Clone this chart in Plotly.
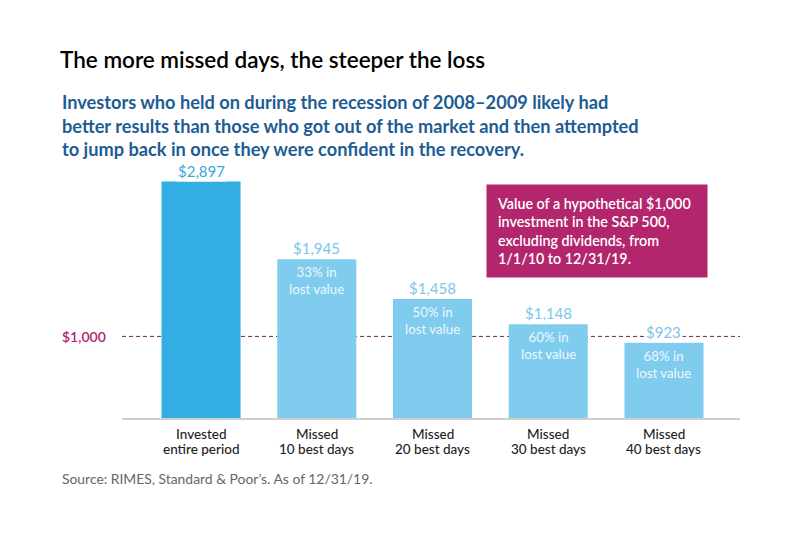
import plotly.graph_objects as go

cat_line1 = ["Invested", "Missed", "Missed", "Missed", "Missed"]
cat_line2 = ["entire period", "10 best days", "20 best days", "30 best days", "40 best days"]
categories = [a + " " + b for a, b in zip(cat_line1, cat_line2)]
values = [2897, 1945, 1458, 1148, 923]
value_labels = ["$2,897", "$1,945", "$1,458", "$1,148", "$923"]
lost_labels = ["", "33% in<br>lost value", "50% in<br>lost value", "60% in<br>lost value", "68% in<br>lost value"]
reference_value = 1000

FONT = "Lato"
bar_colors = ["#33AEE2"] + ["#80CCEE"] * 4
label_colors = ["#3BA7DD"] + ["#7DC6EA"] * 4

# screen geometry (page is offset by 8px body margin)
OFF = 8
PL, PR, PT, PB = 122, 740, 160, 418.5
PW, PH = PR - PL, PB - PT


def px(xs):
    return (xs - PL) / PW


def py(ys):
    return (PB - ys) / PH


fig = go.Figure()
fig.add_trace(go.Bar(
    x=categories, y=values, marker=dict(color=bar_colors, line=dict(width=0)),
    width=0.683, hoverinfo="skip",
))

for i, (c, v) in enumerate(zip(categories, values)):
    fig.add_annotation(x=c, y=v, text=value_labels[i], showarrow=False, yanchor="bottom",
                       yshift=0, bgcolor="white", borderpad=1,
                       font=dict(family=FONT, size=15, color=label_colors[i]))
    if lost_labels[i]:
        fig.add_annotation(x=c, y=v, text=lost_labels[i], showarrow=False, yanchor="top",
                           yshift=-3, font=dict(family=FONT, size=13.3, color="#EEF8FD"))
    fig.add_annotation(x=c, xref="x", yref="paper", y=py(435), text=cat_line1[i], showarrow=False,
                       yanchor="middle", font=dict(family=FONT, size=13.5, color="#1E1E1E", weight=500))
    fig.add_annotation(x=c, xref="x", yref="paper", y=py(449.5), text=cat_line2[i], showarrow=False,
                       yanchor="middle", font=dict(family=FONT, size=13.5, color="#1E1E1E", weight=500))

fig.add_shape(type="line", xref="paper", yref="y", x0=0, x1=1, y0=reference_value, y1=reference_value,
              line=dict(color="#6E2747", width=1, dash="4px,3px"), layer="below")
fig.add_annotation(xref="paper", yref="y", x=px(60), y=reference_value, text="$1,000", showarrow=False,
                   xanchor="left", font=dict(family=FONT, size=14, color="#B0276D", weight=600))

fig.add_annotation(
    xref="paper", yref="paper", x=px(486), y=py(184),
    xanchor="left", yanchor="top", align="left", showarrow=False,
    text="Value of a hypothetical $1,000<br>investment in the S&P 500,<br>excluding dividends, from<br>1/1/10 to 12/31/19.",
    font=dict(family=FONT, size=14.3, color="white", weight=600),
    bgcolor="#B3266E", borderpad=10, width=200, height=72,
)

fig.update_layout(
    width=800, height=534,
    margin=dict(l=PL - OFF, r=800 - PR + OFF, t=PT - OFF, b=534 - PB + OFF),
    paper_bgcolor="white", plot_bgcolor="white",
    showlegend=False,
    title=dict(text="The more missed days, the steeper the loss", x=(60 - OFF) / 800, xanchor="left",
               y=1 - (60 - OFF) / 534, yanchor="middle", xref="container", yref="container",
               font=dict(family=FONT, size=22.5, color="#000000", weight=600)),
    xaxis=dict(type="category", range=[-0.683, 4.657], showgrid=False, zeroline=False,
               showline=True, linecolor="#CFCFCF", linewidth=2, ticks="", showticklabels=False),
    yaxis=dict(range=[0, 3162], visible=False, showgrid=False, zeroline=False),
)

subtitle = ("Investors who held on during the recession of 2008–2009 likely had<br>"
            "better results than those who got out of the market and then attempted<br>"
            "to jump back in once they were confident in the recovery.")
fig.add_annotation(xref="paper", yref="paper", x=px(60), y=py(89),
                   xanchor="left", yanchor="top", align="left", showarrow=False, text=subtitle,
                   font=dict(family=FONT, size=18.2, color="#1D5C94", weight=700))
fig.add_annotation(xref="paper", yref="paper", x=px(60), y=py(479),
                   xanchor="left", yanchor="middle", align="left", showarrow=False,
                   text="Source: RIMES, Standard & Poor’s. As of 12/31/19.",
                   font=dict(family=FONT, size=13.9, color="#666666"))

fig.write_html("out.html")
